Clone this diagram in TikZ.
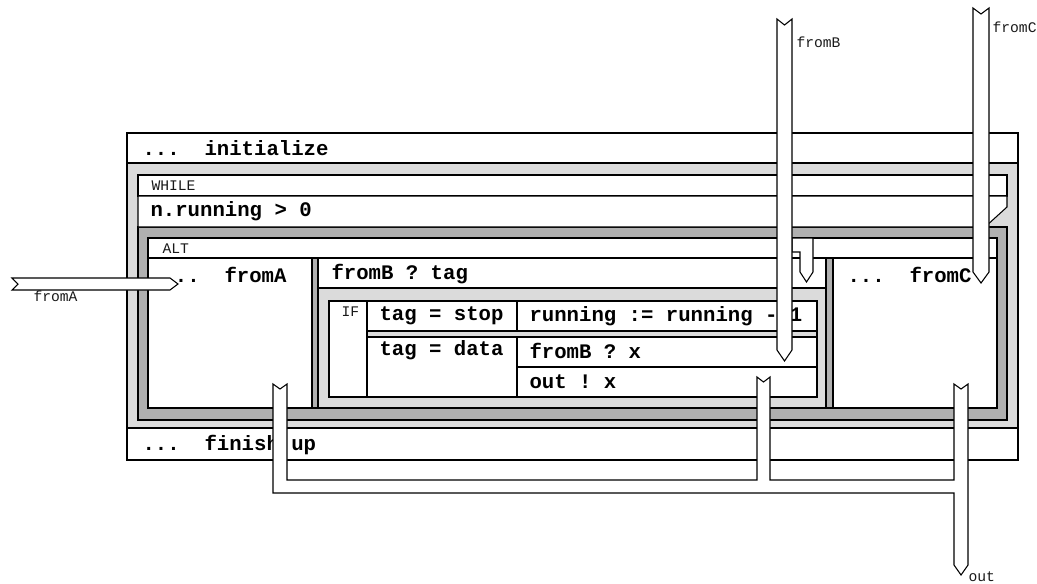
\documentclass[tikz,border=0pt]{standalone}
\usepackage{fontspec}
\setmonofont{Liberation Mono}
\begin{document}
\begin{tikzpicture}[x=0.75pt,y=-0.75pt,line width=0.8pt,
  lightband/.style={fill=gray!28,draw=black},
  darkband/.style={fill=gray!62,draw=black},
  plainbox/.style={fill=white,draw=black},
  code/.style={anchor=west,inner sep=0pt,font=\ttfamily\bfseries\fontsize{15.5}{18}\selectfont},
  tag/.style={anchor=west,inner sep=0pt,font=\ttfamily\fontsize{11}{13}\selectfont,text=gray!20!black},
  pipe/.style={fill=white,draw=black,line width=0.8pt,line join=miter}]
\useasboundingbox (0,0) rectangle (1037,583);
% outer sequence box
\draw[lightband] (127,133) rectangle (1018,460);
\draw[plainbox] (127,133) rectangle (1018,163);
\draw[plainbox] (127,428) rectangle (1018,460);
% WHILE
\draw[darkband] (138,227) rectangle (1007,420);
\draw[plainbox] (138,175) rectangle (1007,196);
\draw[plainbox] (138,196) -- (1007,196) -- (1007,207) -- (985,227) -- (138,227) -- cycle;
% ALT
\draw[darkband] (148,238) rectangle (997,408);
\draw[plainbox] (148,238) rectangle (997,258);
\draw[plainbox] (148,258) rectangle (312,408);
\draw[lightband] (318,258) rectangle (826,408);
\draw[plainbox] (318,258) rectangle (826,288);
\draw[plainbox] (833,258) rectangle (997,408);
% IF
\draw[plainbox] (329,301) rectangle (817,397);
\draw (367,301) -- (367,397);
\draw (517,301) -- (517,397);
\draw[lightband] (367,331) rectangle (817,337);
\draw (517,367) -- (817,367);
% texts
\node[code] (init) at (142,148) {...~~initialize};
\node[tag] (while) at (151,186) {WHILE};
\node[code] (cond) at (150,211) {n.running~>~0};
\node[tag] (alt) at (162,249) {ALT};
\node[code] (fa) at (162,275) {...~~fromA};
\node[code] (fb) at (331,274) {fromB~?~tag};
\node[code] (fc) at (847,275) {...~~fromC};
\node[tag] (if) at (341,312) {IF};
\node[code] (stop) at (379,316) {tag~=~stop};
\node[code] (dec) at (529,316) {running~:=~running~-~1};
\node[code] (data) at (379,350) {tag~=~data};
\node[code] (inx) at (529,351) {fromB~?~x};
\node[code] (outx) at (529,382) {out~!~x};
\node[code] (fin) at (142,445) {...~~finish~up};
% channel labels
\node[tag] (lfa) at (33,296) {fromA};
\node[tag] (lfb) at (796,42) {fromB};
\node[tag] (lfc) at (992,27) {fromC};
\node[tag] (lout) at (968,577) {out};
% channels (pipes)
\draw[pipe] (12,278) -- (18,284) -- (12,290) -- (170,290) -- (178,284) -- (170,278) -- cycle;
\draw[pipe] (792,238) -- (813,238) -- (813,272) -- (806.5,282) -- (800,272) -- (800,252) -- (792,252) -- cycle;
\draw[pipe] (777,19) -- (784.5,25) -- (792,19) -- (792,350) -- (784.5,361) -- (777,350) -- cycle;
\draw[pipe] (973,8) -- (981,14) -- (989,8) -- (989,272) -- (981,283) -- (973,272) -- cycle;
\draw[pipe] (273,384) -- (280,389) -- (287,384) -- (287,480) -- (757,480) -- (757,377)
  -- (763.5,382) -- (770,377) -- (770,480) -- (954,480) -- (954,384) -- (961,389)
  -- (968,384) -- (968,565) -- (961,575) -- (954,565) -- (954,493) -- (273,493) -- cycle;
\end{tikzpicture}
\end{document}
